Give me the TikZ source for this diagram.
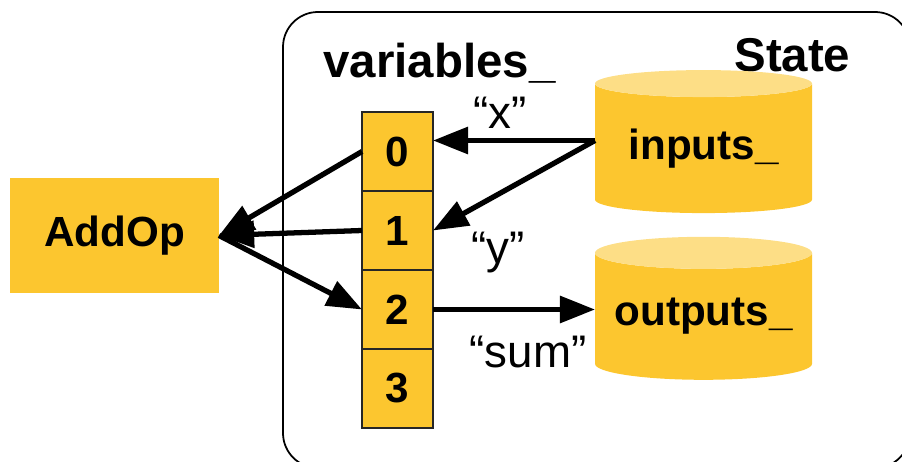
\documentclass[tikz,border=0pt]{standalone}
\usepackage{fontspec}
\setmainfont{Liberation Sans}
\usetikzlibrary{arrows.meta,positioning,shapes.geometric}
\definecolor{gold}{RGB}{252,198,47}
\definecolor{lidgold}{RGB}{253,222,134}
\tikzset{
cellbox/.style={
  rectangle,
  draw=black!85,
  line width=1pt,
  fill=gold,
  minimum width=1.42cm,
  minimum height=1.58cm,
  outer sep=0pt,
  font=\fontsize{24}{28}\selectfont\bfseries,
  }
}
\tikzset{
opbox/.style={
  rectangle,
  fill=gold,
  minimum width=4.18cm,
  minimum height=2.3cm,
  outer sep=0pt,
  font=\fontsize{24}{28}\selectfont\bfseries,
  }
}
\tikzset{
store/.style={
  cylinder,
  shape border rotate=90,
  aspect=0.18,
  minimum width=4.34cm,
  minimum height=2.86cm,
  cylinder uses custom fill,
  cylinder body fill=gold,
  cylinder end fill=lidgold,
  inner sep=0pt,
  outer sep=0pt,
  font=\fontsize{24}{28}\selectfont\bfseries,
  }
}
\tikzset{
title/.style={
  inner sep=0pt,
  font=\fontsize{27}{32}\selectfont\bfseries,
  }
}
\tikzset{
quote/.style={
  inner sep=0pt,
  font=\fontsize{26}{30}\selectfont,
  }
}
\tikzset{
flow/.style={
  line width=3pt,
  -{Triangle[length=20pt,width=15pt]}
  }
}

\begin{document}
\begin{tikzpicture}
    \useasboundingbox (0,0) rectangle (18.04,-9.24);

    % state part
    \draw[line width=1pt, rounded corners=0.7cm] (5.66,-0.24) rectangle (18.2,-9.36);
    \node[title, anchor=base west] (state) at (14.68,-1.43) {State};
    \node[title, anchor=base west] (vars) at (6.46,-1.55) {variables\_};

    % variables part
    \node[cellbox] (v0) at (7.95,-3.03) {0};
    \node[cellbox, below=0pt of v0] (v1) {1};
    \node[cellbox, below=0pt of v1] (v2) {2};
    \node[cellbox, below=0pt of v2] (v3) {3};

    % op part
    \node[opbox] (addop) at (2.29,-4.71) {AddOp};

    % store part
    \node[store] (inputs) at (14.07,-2.97) {inputs\_};
    \node[store] (outputs) at (14.07,-6.33) {outputs\_};
    \coordinate (insrc) at ([yshift=0.16cm]inputs.west);

    % names
    \node[quote, anchor=base] (xname) at (10.0,-2.56) {“x”};
    \node[quote, anchor=base] (yname) at (9.96,-5.27) {“y”};
    \node[quote, anchor=base] (sumname) at (10.56,-7.34) {“sum”};

    % op edges
    \draw[flow] (v0.west) -- (addop.east);
    \draw[flow] (v1.west) -- (addop.east);
    \draw[flow] (addop.east) -- (v2.west);

    % store edges
    \draw[flow] (insrc) -- (insrc -| v0.east);
    \draw[flow] (insrc) -- (v1.east);
    \draw[flow] (v2.east) -- (v2.east -| outputs.west);
\end{tikzpicture}
\end{document}
